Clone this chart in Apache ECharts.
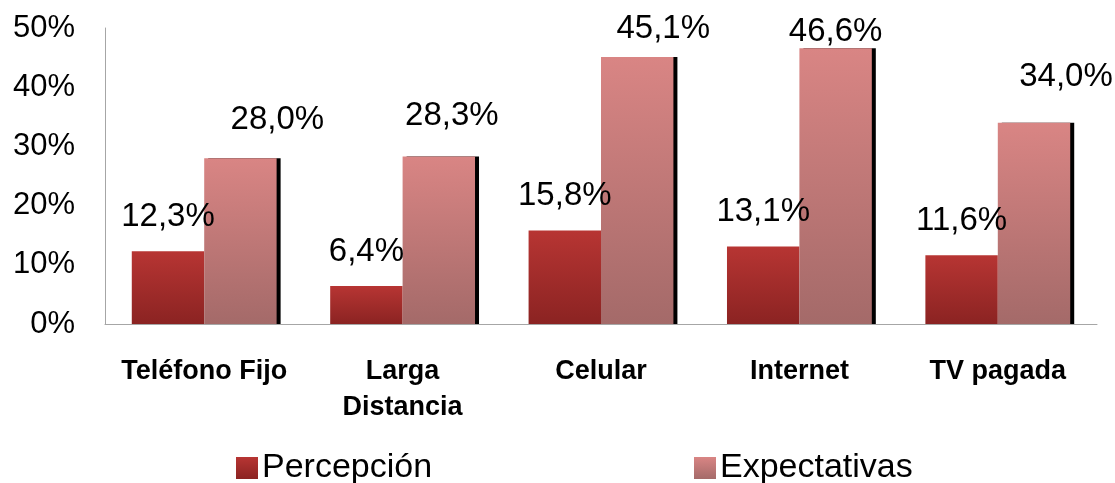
<!DOCTYPE html>
<html>
<head>
<meta charset="utf-8">
<script src="https://cdn.jsdelivr.net/npm/echarts@6/dist/echarts.min.js"></script>
<style>
  html, body { margin: 0; padding: 0; background: #fff; }
  #chart { width: 1115px; height: 483px; }
</style>
</head>
<body>
<div id="chart"></div>
<script>
const categories = ["Teléfono Fijo", "Larga\nDistancia", "Celular", "Internet", "TV pagada"];
const percepcion = [12.3, 6.4, 15.8, 13.1, 11.6];
const expectativas = [28.0, 28.3, 45.1, 46.6, 34.0];

// labels in the original were dragged by hand, so nudge them a bit
const expLabelNudge = [[37, -4], [13, -6], [26, 6], [0, 18], [32, -11]];

const FONT = "Liberation Sans, Arial, sans-serif";
const fmt = (v) => v.toFixed(1).replace(".", ",") + "%";

const redGrad = new echarts.graphic.LinearGradient(0, 0, 0, 1, [
  { offset: 0, color: "#b73533" },
  { offset: 1, color: "#8b2322" },
]);
const pinkGrad = new echarts.graphic.LinearGradient(0, 0, 0, 1, [
  { offset: 0, color: "#d98584" },
  { offset: 1, color: "#a46a69" },
]);

const legendText = { fontSize: 34, color: "#000", fontFamily: FONT, padding: [0, 0, 0, -1] };

const chart = echarts.init(document.getElementById("chart"));

chart.setOption({
  animation: false,
  textStyle: { fontFamily: FONT },
  grid: { left: 105, right: 18, top: 28, bottom: 159 },
  legend: [
    {
      data: ["Percepción"],
      icon: "rect",
      left: 231,
      top: 446,
      itemWidth: 22,
      itemHeight: 22,
      itemGap: 0,
      textStyle: legendText,
    },
    {
      data: ["Expectativas"],
      icon: "rect",
      left: 689,
      top: 446,
      itemWidth: 22,
      itemHeight: 22,
      itemGap: 0,
      textStyle: legendText,
    },
  ],
  xAxis: {
    type: "category",
    data: categories,
    axisLine: { lineStyle: { color: "#a6a6a6", width: 1 } },
    axisTick: { show: false },
    axisLabel: {
      interval: 0,
      margin: 30,
      fontSize: 27,
      fontWeight: "bold",
      color: "#000",
      lineHeight: 36,
      fontFamily: FONT,
    },
  },
  yAxis: {
    type: "value",
    min: 0,
    max: 50,
    interval: 10,
    axisLine: { show: true, lineStyle: { color: "#a6a6a6", width: 1 } },
    axisTick: { show: false },
    splitLine: { show: false },
    axisLabel: {
      margin: 30,
      fontSize: 31,
      color: "#000",
      fontFamily: FONT,
      formatter: "{value}%",
    },
  },
  series: [
    {
      name: "Percepción",
      type: "bar",
      data: percepcion,
      barGap: "0%",
      barCategoryGap: "27%",
      itemStyle: { color: redGrad },
      label: {
        show: true,
        position: "top",
        distance: 18,
        fontSize: 33,
        color: "#000",
        fontFamily: FONT,
        formatter: (p) => fmt(p.value),
      },
    },
    {
      name: "Expectativas",
      type: "bar",
      data: expectativas.map((v, i) => ({
        value: v,
        label: { offset: expLabelNudge[i] },
      })),
      itemStyle: {
        color: pinkGrad,
        shadowColor: "#000",
        shadowBlur: 0,
        shadowOffsetX: 4,
        shadowOffsetY: 0,
      },
      label: {
        show: true,
        position: "top",
        distance: 18,
        fontSize: 33,
        color: "#000",
        fontFamily: FONT,
        formatter: (p) => fmt(p.value),
      },
    },
  ],
});
</script>
</body>
</html>
